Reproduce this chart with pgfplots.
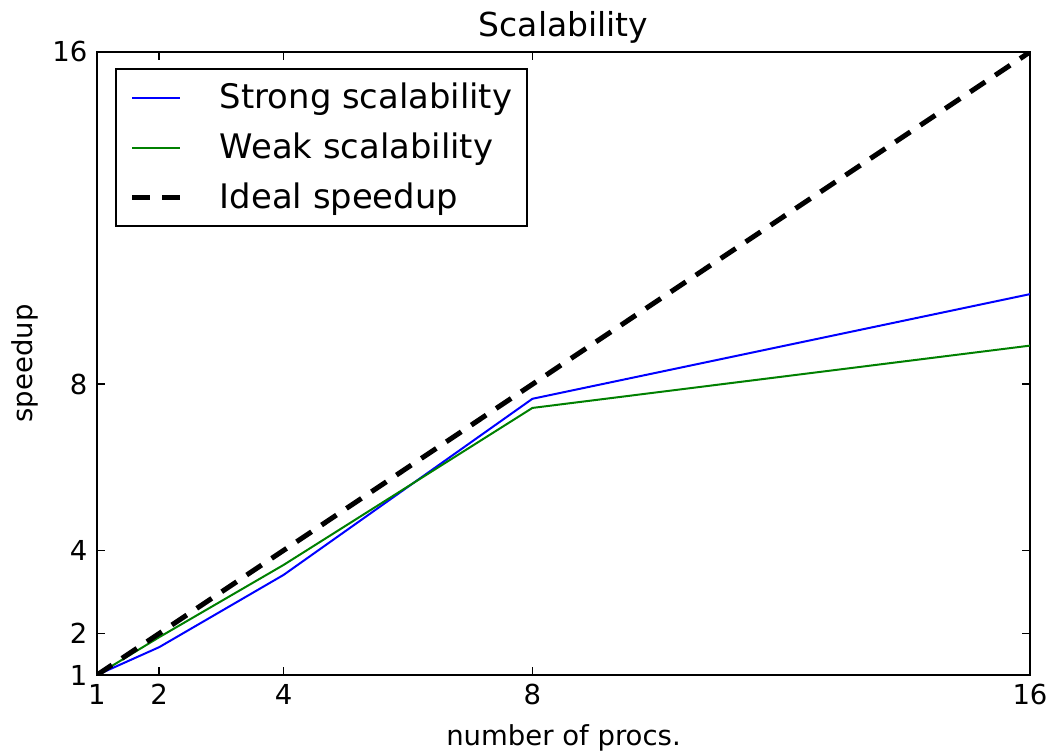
\documentclass[border=0pt]{standalone}
\usepackage{fontspec}
\setmainfont{DejaVu Sans}
\usepackage{pgfplots}
\pgfplotsset{compat=1.18}
\definecolor{mplgreen}{rgb}{0,0.5,0}

\begin{document}
\fontsize{13.75}{16}\selectfont
\begin{tikzpicture}
% fixed page frame around the plot area
\path[use as bounding box] (-48.5pt,-39.5pt) rectangle (477pt,337.5pt);
\begin{axis}[
    at={(0pt,0pt)}, anchor=south west,
    scale only axis,
    width=466.5pt, height=311.5pt,
    xmin=1, xmax=16, ymin=1, ymax=16,
    xtick={1,2,4,8,16}, ytick={1,2,4,8,16},
    /pgf/number format/assume math mode=true,
    tick label style={font=\fontsize{13.75}{16}\selectfont},
    label style={font=\fontsize{13.75}{16}\selectfont},
    title style={font=\fontsize{16.5}{20}\selectfont,
        at={(axis description cs:0.5,1.0401)}, anchor=center, yshift=-6pt},
    xlabel style={at={(axis description cs:0.5,-0.1011)}, anchor=center},
    ylabel style={at={(axis description cs:-0.0772,0.5)}, anchor=center},
    title={Scalability},
    xlabel={number of procs.},
    ylabel={speedup},
    axis line style={line width=1pt},
    tick style={line width=0.8pt, black},
    major tick length=4pt,
    tick align=inside,
    legend style={at={(rel axis cs:0,1)}, anchor=north west,
        xshift=9pt, yshift=-8pt, draw=black, line width=1pt,
        font=\fontsize{16.9}{20}\selectfont,
        row sep=6pt, inner xsep=5.5pt, inner ysep=5pt},
    legend cell align=left,
    legend image code/.code={%
        \draw[#1] (1.5pt,0pt) -- (25.5pt,0pt);
        \path (0pt,0pt) (42pt,0pt);},
]
\addplot[blue, line width=1pt] coordinates {
    (1,1) (2,1.67) (4,3.41) (8,7.65) (16,10.17)
};
\addlegendentry{Strong scalability}
\addplot[mplgreen, line width=1pt] coordinates {
    (1,1) (2,1.91) (4,3.65) (8,7.43) (16,8.93)
};
\addlegendentry{Weak scalability}
\addplot[black, line width=2.5pt, dash pattern=on 9pt off 6pt] coordinates {
    (1,1) (2,2) (4,4) (8,8) (16,16)
};
\addlegendentry{Ideal speedup}
\end{axis}
\end{tikzpicture}
\end{document}
